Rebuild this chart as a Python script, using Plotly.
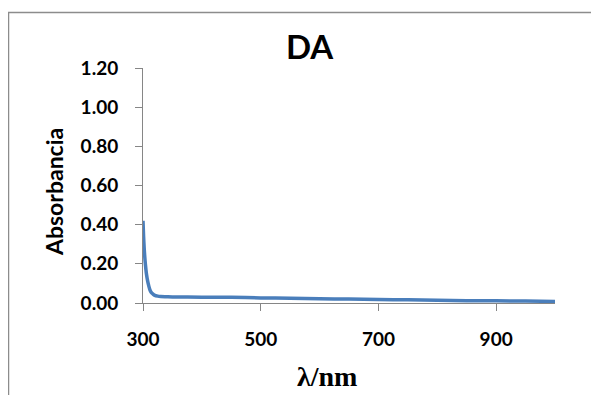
import plotly.graph_objects as go

wavelength = [300, 301, 302, 303, 304, 305, 306, 308, 310, 312, 315, 318, 320, 325, 330, 340, 350,
              400, 450, 500, 550, 600, 650, 700, 750, 800, 850, 900, 950, 1000]
absorbance = [0.42, 0.34, 0.28, 0.235, 0.20, 0.17, 0.145, 0.11, 0.085, 0.065, 0.05, 0.043, 0.039,
              0.035, 0.033, 0.032, 0.031, 0.030, 0.029, 0.026, 0.024, 0.022, 0.020, 0.018,
              0.016, 0.014, 0.012, 0.011, 0.010, 0.008]

x_ticks = [300, 500, 700, 900]
y_ticks = [0.0, 0.2, 0.4, 0.6, 0.8, 1.0, 1.2]

title_text = "DA"
x_title = "λ/nm"
y_title = "Absorbancia"

# page body has an 8px margin; figure sized to fit the 599x395 window
OFF = 8
W, H = 599 - OFF, 395 - OFF
# plot area in screen pixels: x 143..555, y 68..303
SX0, SX1, SY0, SY1 = 143, 555, 68, 303
L, R, T, B = SX0 - OFF, W - (SX1 - OFF), SY0 - OFF, H - (SY1 - OFF)
pw, ph = W - L - R, H - T - B

def sx(px):
    return (px - SX0) / pw

def sy(py):
    return (SY1 - py) / ph

fig = go.Figure()
fig.add_trace(go.Scatter(x=wavelength, y=absorbance, mode="lines",
                         line=dict(color="#4A7EBB", width=3.5, shape="spline", smoothing=0.6),
                         showlegend=False, hoverinfo="skip"))

tickfont = dict(family="Lato", size=19, color="black")
fig.update_layout(
    width=W, height=H,
    margin=dict(l=L, r=R, t=T, b=B, autoexpand=False),
    paper_bgcolor="white", plot_bgcolor="white",
    xaxis=dict(range=[300, 1000], tickvals=x_ticks, ticktext=[f"<b>{v}</b>" for v in x_ticks],
               showgrid=False, zeroline=False, showline=True, linecolor="#868686", linewidth=1,
               ticks="outside", ticklen=7, tickcolor="#868686", tickfont=tickfont,
               ticklabelstandoff=12),
    yaxis=dict(range=[0, 1.2], tickvals=y_ticks, ticktext=[f"<b>{v:.2f}</b>" for v in y_ticks],
               showgrid=False, zeroline=False, showline=True, linecolor="#868686", linewidth=1,
               ticks="outside", ticklen=7, tickcolor="#868686", tickfont=tickfont,
               ticklabelstandoff=13),
)

fig.add_annotation(text="<b>" + title_text + "</b>", xref="paper", yref="paper",
                   x=sx(310), y=sy(46), showarrow=False, xanchor="center", yanchor="middle",
                   font=dict(family="Lato", size=33, color="black"))
fig.add_annotation(text="<b>" + x_title + "</b>", xref="paper", yref="paper",
                   x=sx(327), y=sy(376), showarrow=False,
                   xanchor="center", yanchor="middle",
                   font=dict(family="Liberation Serif", size=28, color="black"))
fig.add_annotation(text="<b>" + y_title + "</b>", xref="paper", yref="paper",
                   x=sx(54), y=sy(192), showarrow=False, textangle=-90,
                   xanchor="center", yanchor="middle",
                   font=dict(family="Lato", size=23, color="black"))

fig.add_shape(type="rect", xref="paper", yref="paper",
              x0=sx(8.5), x1=sx(700), y0=sy(500), y1=sy(12.5),
              line=dict(color="#8C8C8C", width=1.5), fillcolor="rgba(0,0,0,0)", layer="below")

fig.write_html("out.html")
